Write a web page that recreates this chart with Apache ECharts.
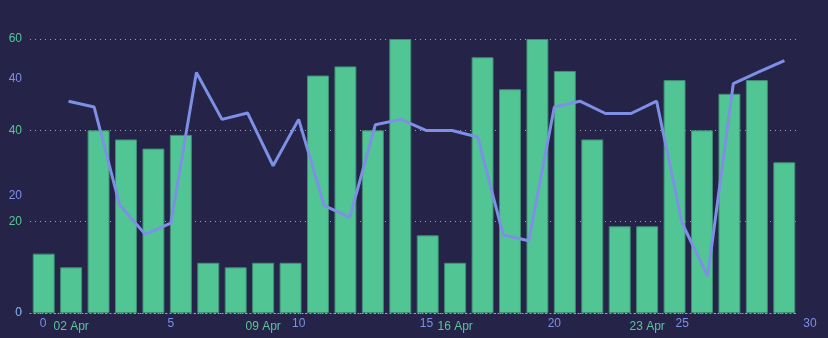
<!DOCTYPE html>
<html>
<head>
<meta charset="utf-8">
<script src="https://cdn.jsdelivr.net/npm/echarts@6/dist/echarts.min.js"></script>
<style>
html,body{margin:0;padding:0;background:#252448;}
#c{width:828px;height:338px;}
</style>
</head>
<body>
<div id="c"></div>
<script>
// Categories (dates for bars)
var dates = ['01 Apr','02 Apr','03 Apr','04 Apr','05 Apr','06 Apr','07 Apr','08 Apr','09 Apr','10 Apr',
  '11 Apr','12 Apr','13 Apr','14 Apr','15 Apr','16 Apr','17 Apr','18 Apr','19 Apr','20 Apr',
  '21 Apr','22 Apr','23 Apr','24 Apr','25 Apr','26 Apr','27 Apr','28 Apr'];
// Bar values
var barValues = [13,10,40,38,36,39,11,10,11,11,52,54,40,60,17,11,56,49,60,53,38,19,19,51,40,48,51,33];
// Line x positions and values
var lineX = [1,2,3,4,5,6,7,8,9,10,11,12,13,14,15,16,17,18,19,20,21,22,23,24,25,26,27,28,29];
var lineValues = [36.1,35.1,18.4,13.4,15.3,41.0,33.0,34.1,25.1,33.0,18.3,16.3,32.1,33.0,31.1,31.1,30.0,13.3,12.3,35.1,36.1,34.0,34.0,36.1,15.3,6.3,39.1,41.1,43.0];
// Axis ticks
var barAxisTicks = {min:0, max:60, interval:20};
var lineAxisTicks = {min:0, max:46.7, interval:20};
var xValueTicks = {min:0, max:30, interval:5};

var green = '#56c796';
var purple = '#7d90e6';
var font = 'sans-serif';

var chart = echarts.init(document.getElementById('c'), null, {renderer:'canvas'});
chart.setOption({
  backgroundColor: '#252448',
  animation: false,
  grid: [
    {left:30, right:30, top:39, bottom:25},
    {left:43, right:18, top:39, bottom:25}
  ],
  xAxis: [
    {
      type:'category', gridIndex:0, data: dates,
      axisLine:{show:true, lineStyle:{color:'#a0a0b8', type:[1,3], width:1}},
      axisTick:{show:false},
      axisLabel:{color:green, fontSize:12, fontFamily:font, margin:8,
        interval:function(i){ return i % 7 === 1; }},
      splitLine:{show:false}
    },
    {
      type:'value', gridIndex:1, min:xValueTicks.min, max:xValueTicks.max, interval:xValueTicks.interval,
      axisLine:{show:false}, axisTick:{show:false},
      axisLabel:{color:purple, fontSize:12, fontFamily:font, margin:5},
      splitLine:{show:false}
    }
  ],
  yAxis: [
    {
      type:'value', gridIndex:0, min:barAxisTicks.min, max:barAxisTicks.max, interval:barAxisTicks.interval,
      axisLine:{show:false}, axisTick:{show:false},
      axisLabel:{color:green, fontSize:12, fontFamily:font, margin:8},
      splitLine:{show:true, lineStyle:{color:'#a0a0b8', type:[1,4], width:1}}
    },
    {
      type:'value', gridIndex:1, min:lineAxisTicks.min, max:lineAxisTicks.max, interval:lineAxisTicks.interval,
      axisLine:{show:false}, axisTick:{show:false},
      axisLabel:{color:purple, fontSize:12, fontFamily:font, margin:21, showMaxLabel:false,
        formatter:function(v){ return (Math.abs(v % 20) < 1e-6) ? String(v) : ''; }},
      splitLine:{show:false}
    }
  ],
  series: [
    {
      type:'bar', xAxisIndex:0, yAxisIndex:0, data: barValues,
      barCategoryGap:'20%',
      itemStyle:{color:'#52c594', borderColor:'#3f8f74', borderWidth:1},
      z:2
    },
    {
      type:'line', xAxisIndex:1, yAxisIndex:1,
      data: lineX.map(function(x,i){ return [x, lineValues[i]]; }),
      showSymbol:false, symbol:'none',
      lineStyle:{color:purple, width:3},
      z:5
    }
  ]
});
</script>
</body>
</html>
